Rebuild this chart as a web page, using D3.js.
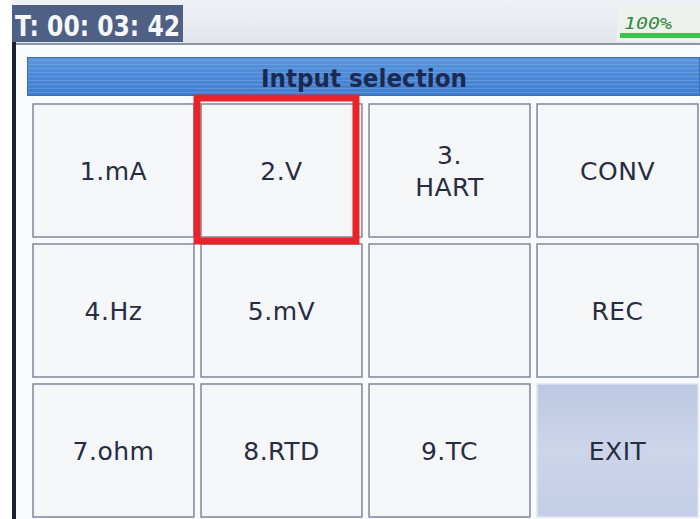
<!DOCTYPE html>
<html><head><meta charset="utf-8">
<script src="https://cdn.jsdelivr.net/npm/d3@7"></script>
<style>
html,body{margin:0;padding:0;background:#ffffff;}
svg{display:block;}
</style></head>
<body>
<script>
// ---- data ----
const timeLabel = "T: 00: 03: 42";
const batteryLabel = "100%";
const titleLabel = "Intput selection";
const cellLabels = [["1.mA"], ["2.V"], ["3.", "HART"], ["CONV"],
                    ["4.Hz"], ["5.mV"], [""], ["REC"],
                    ["7.ohm"], ["8.RTD"], ["9.TC"], ["EXIT"]];
const cellCols = [0,1,2,3, 0,1,2,3, 0,1,2,3];
const cellRows = [0,0,0,0, 1,1,1,1, 2,2,2,2];
const highlighted = [false,false,false,false, false,false,false,false, false,false,false,true];
const selectedIndex = 1;

const W = 700, H = 519;
const svg = d3.select("body").append("svg").attr("width", W).attr("height", H);

const defs = svg.append("defs");
const tg = defs.append("linearGradient").attr("id","titleGrad").attr("x1",0).attr("y1",0).attr("x2",0).attr("y2",1);
tg.append("stop").attr("offset","0%").attr("stop-color","#5c95da");
tg.append("stop").attr("offset","50%").attr("stop-color","#4b88d6");
tg.append("stop").attr("offset","100%").attr("stop-color","#3f7dcf");
const stripes = defs.append("pattern").attr("id","stripes").attr("width",8).attr("height",4).attr("patternUnits","userSpaceOnUse");
stripes.append("rect").attr("width",8).attr("height",1).attr("fill","#8ab8ec").attr("opacity",0.35);
const eg = defs.append("linearGradient").attr("id","exitGrad").attr("x1",0).attr("y1",0).attr("x2",0).attr("y2",1);
eg.append("stop").attr("offset","0%").attr("stop-color","#bcc7e2");
eg.append("stop").attr("offset","50%").attr("stop-color","#cdd5ea");
eg.append("stop").attr("offset","100%").attr("stop-color","#c3cde6");
const topg = defs.append("linearGradient").attr("id","topGrad").attr("x1",0).attr("y1",0).attr("x2",0).attr("y2",1);
topg.append("stop").attr("offset","0%").attr("stop-color","#eef1f5");
topg.append("stop").attr("offset","100%").attr("stop-color","#e2e6ec");

// screen background
svg.append("rect").attr("x",0).attr("y",0).attr("width",W).attr("height",H).attr("fill","#ffffff");
svg.append("rect").attr("x",15).attr("y",45).attr("width",W-15).attr("height",H-45).attr("fill","#f9fafc");
// top status bar
svg.append("rect").attr("x",12).attr("y",0).attr("width",W-12).attr("height",44).attr("fill","url(#topGrad)");
svg.append("rect").attr("x",12).attr("y",43).attr("width",W-12).attr("height",2).attr("fill","#8e95a6");
// left screen edge
svg.append("rect").attr("x",12).attr("y",40).attr("width",4).attr("height",H-40).attr("fill","#1c2232");

// time box
svg.append("rect").attr("x",12).attr("y",5).attr("width",171).attr("height",37).attr("fill","#4e6083");
svg.append("text").attr("x",15).attr("y",36).text(timeLabel)
  .attr("font-family","'DejaVu Sans Condensed','DejaVu Sans',sans-serif")
  .attr("font-weight","bold").attr("font-size",29).attr("fill","#f6f7fa")
  .attr("textLength",165).attr("lengthAdjust","spacingAndGlyphs");

// battery
svg.append("rect").attr("x",617).attr("y",5).attr("width",83).attr("height",37).attr("fill","#eef2ee");
svg.append("rect").attr("x",620).attr("y",33).attr("width",80).attr("height",5).attr("fill","#3cc24e");
svg.append("text").attr("x",624).attr("y",29).text(batteryLabel)
  .attr("font-family","'DejaVu Sans Mono',monospace").attr("font-size",16).attr("fill","#2f8a3c")
  .attr("font-style","italic").attr("textLength",48).attr("lengthAdjust","spacingAndGlyphs");

// title bar
svg.append("rect").attr("x",27).attr("y",57).attr("width",W-27).attr("height",39).attr("fill","url(#titleGrad)");
svg.append("rect").attr("x",27).attr("y",57).attr("width",W-27).attr("height",39).attr("fill","url(#stripes)");
svg.append("rect").attr("x",27.5).attr("y",57.5).attr("width",W-28).attr("height",38)
  .attr("fill","none").attr("stroke","#3b70b8").attr("stroke-width",1);
svg.append("text").attr("x",364).attr("y",87).attr("text-anchor","middle").text(titleLabel)
  .attr("font-family","'DejaVu Sans Condensed','DejaVu Sans',sans-serif")
  .attr("font-weight","bold").attr("font-size",25).attr("fill","#1c2a52")
  .attr("textLength",206).attr("lengthAdjust","spacingAndGlyphs");

// grid scales
const x = d3.scaleBand().domain([0,1,2,3]).range([33, 698]).paddingInner(0.042);
const y = d3.scaleBand().domain([0,1,2]).range([104, 517]).paddingInner(0.05);

const cells = svg.append("g").selectAll("g").data(cellLabels.map((l,i)=>({l, c:cellCols[i], r:cellRows[i], h:highlighted[i]})))
  .join("g").attr("transform", d => `translate(${x(d.c)},${y(d.r)})`);

cells.append("rect").attr("width", x.bandwidth()).attr("height", y.bandwidth())
  .attr("fill", d => d.h ? "url(#exitGrad)" : "#f4f6f8")
  .attr("stroke", d => d.h ? "#dfe4ef" : "#7f879a").attr("stroke-width", 1.5);

cells.each(function(d){
  const g = d3.select(this);
  const n = d.l.length;
  const lh = 32;
  d.l.forEach((t, k) => {
    g.append("text")
      .attr("x", x.bandwidth()/2)
      .attr("y", y.bandwidth()/2 + (k - (n-1)/2) * lh)
      .attr("dy", "0.36em")
      .attr("text-anchor", "middle")
      .attr("font-family", "'DejaVu Sans',sans-serif")
      .attr("font-size", 25)
      .attr("letter-spacing", 0.5)
      .attr("fill", "#272c42")
      .text(t);
  });
});

// selection highlight
const sc = cellCols[selectedIndex], sr = cellRows[selectedIndex];
svg.append("rect")
  .attr("x", x(sc) - 4).attr("y", y(sr) - 6)
  .attr("width", x.bandwidth() - 2).attr("height", y.bandwidth() + 10)
  .attr("fill", "none").attr("stroke", "#e8232a").attr("stroke-width", 7);
</script>
</body></html>
